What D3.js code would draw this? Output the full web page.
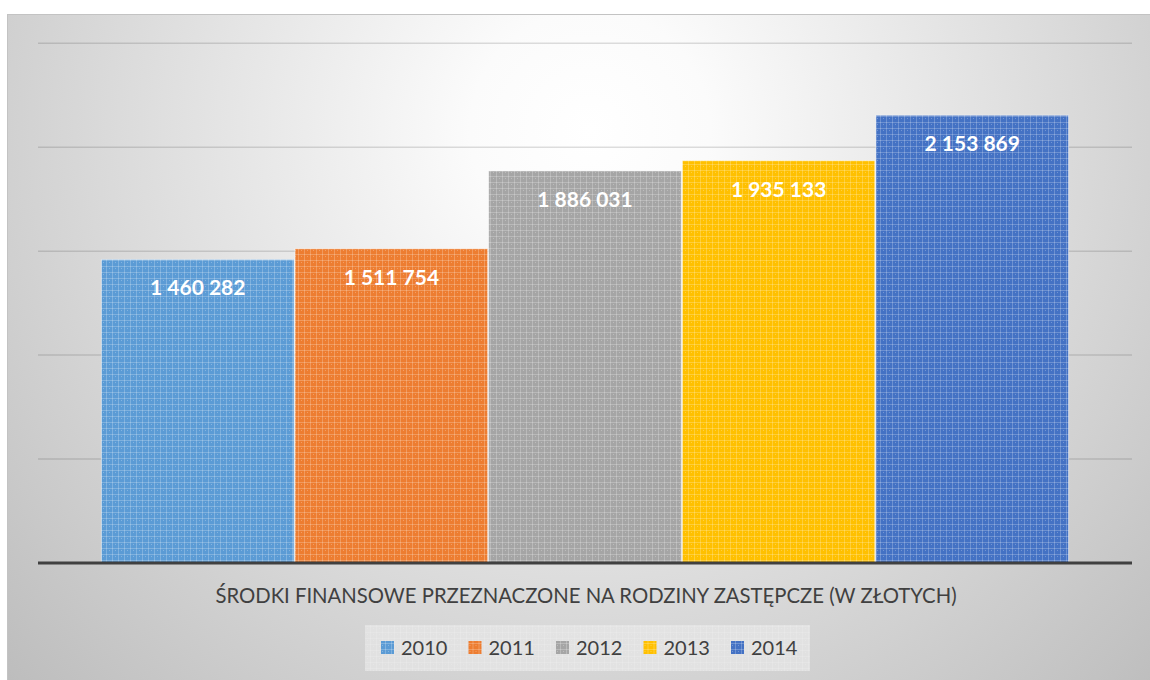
<!DOCTYPE html>
<html>
<head>
<meta charset="utf-8">
<script src="https://cdn.jsdelivr.net/npm/d3@7"></script>
<style>
  html, body { margin: 0; padding: 0; background: #fff; }
  #container { width: 1150px; height: 680px; }
</style>
</head>
<body>
<div id="container"></div>
<script>
// data
const years = ['2010', '2011', '2012', '2013', '2014']
const values = [1460282, 1511754, 1886031, 1935133, 2153869]
const colors = ['#5b9bd5', '#ed7d31', '#a5a5a5', '#ffc000', '#4472c4']
const gridTicks = [0, 500000, 1000000, 1500000, 2000000, 2500000]
const title = 'ŚRODKI FINANSOWE PRZEZNACZONE NA RODZINY ZASTĘPCZE (W ZŁOTYCH)'

const w = 1150
const h = 680

// plot area
const plot = { left: 38, right: 1132, top: 43.3, bottom: 563 }

const svg = d3.select('#container')
  .append('svg')
  .attr('width', w)
  .attr('height', h)

const defs = svg.append('defs')

// background gradient
const grad = defs.append('radialGradient')
  .attr('id', 'bg')
  .attr('gradientUnits', 'userSpaceOnUse')
  .attr('cx', 590).attr('cy', 130).attr('r', 800)
grad.append('stop').attr('offset', 0).attr('stop-color', '#ffffff')
grad.append('stop').attr('offset', 0.15).attr('stop-color', '#fbfbfb')
grad.append('stop').attr('offset', 1).attr('stop-color', '#bdbdbd')

//texture patterns for each bar colour
const makePattern = (id, color) => {
  const p = defs.append('pattern')
    .attr('id', id)
    .attr('patternUnits', 'userSpaceOnUse')
    .attr('width', 6).attr('height', 6)
  p.append('rect').attr('width', 6).attr('height', 6).attr('fill', color)
  p.append('rect').attr('x', 0).attr('y', 2).attr('width', 6).attr('height', 1)
    .attr('fill', '#fff').attr('opacity', 0.22)
  p.append('rect').attr('x', 4).attr('y', 0).attr('width', 1).attr('height', 6)
    .attr('fill', '#fff').attr('opacity', 0.22)
  p.append('rect').attr('x', 1).attr('y', 4).attr('width', 1).attr('height', 1)
    .attr('fill', '#fff').attr('opacity', 0.25)
}
years.forEach((y, i) => makePattern('pat' + y, colors[i]))
makePattern('patLegend', '#e6e6e6')

// chart box
svg.append('rect')
  .attr('x', 7.5).attr('y', 14.5)
  .attr('width', w).attr('height', h)
  .attr('fill', 'url(#bg)')
  .attr('stroke', '#c3c3c3')
  .attr('stroke-width', 1)

// scales
const y = d3.scaleLinear()
  .domain([0, 2500000])
  .range([plot.bottom, plot.top])

const x = d3.scaleBand()
  .domain(years)
  .range([plot.left, plot.right])
  .paddingInner(0)
  .paddingOuter(0.325)

// gridlines
svg.append('g')
  .selectAll('line')
  .data(gridTicks.slice(1))
  .enter()
  .append('line')
  .attr('x1', plot.left).attr('x2', plot.right)
  .attr('y1', d => y(d)).attr('y2', d => y(d))
  .attr('stroke', '#000')
  .attr('stroke-opacity', 0.13)
  .attr('stroke-width', 1.5)

// bars
svg.append('g')
  .selectAll('rect')
  .data(years)
  .enter()
  .append('rect')
  .attr('x', d => x(d) + 0.5)
  .attr('y', (d, i) => y(values[i]))
  .attr('width', x.bandwidth() - 1)
  .attr('height', (d, i) => plot.bottom - y(values[i]))
  .attr('fill', d => 'url(#pat' + d + ')')
  .attr('stroke', '#fff')
  .attr('stroke-opacity', 0.5)
  .attr('stroke-width', 1)

// value labels
const fmt = v => d3.format(',')(v).replace(/,/g, ' ')
svg.append('g')
  .selectAll('text')
  .data(years)
  .enter()
  .append('text')
  .attr('x', d => x(d) + x.bandwidth() / 2)
  .attr('y', (d, i) => y(values[i]) + 36)
  .attr('text-anchor', 'middle')
  .attr('font-family', 'Lato, "Open Sans", sans-serif')
  .attr('font-weight', 'bold')
  .attr('font-size', 21)
  .attr('fill', '#fff')
  .text((d, i) => fmt(values[i]))

// axis line
svg.append('line')
  .attr('x1', plot.left).attr('x2', plot.right)
  .attr('y1', plot.bottom).attr('y2', plot.bottom)
  .attr('stroke', '#404040')
  .attr('stroke-width', 3)

// category title
svg.append('text')
  .attr('x', 586)
  .attr('y', 603)
  .attr('text-anchor', 'middle')
  .attr('font-family', 'Lato, "Open Sans", sans-serif')
  .attr('font-size', 20.3)
  .attr('fill', '#404040')
  .text(title)

// legend
const legend = svg.append('g')
legend.append('rect')
  .attr('x', 365).attr('y', 625)
  .attr('width', 445).attr('height', 46)
  .attr('fill', 'url(#patLegend)')
  .attr('opacity', 0.75)

const lx = d3.scalePoint()
  .domain(years)
  .range([381, 731])

const item = legend.selectAll('g')
  .data(years)
  .enter()
  .append('g')
  .attr('transform', d => `translate(${lx(d)},641)`)

item.append('rect')
  .attr('width', 13).attr('height', 13)
  .attr('fill', d => 'url(#pat' + d + ')')

item.append('text')
  .attr('x', 20)
  .attr('y', 14)
  .attr('font-family', 'Lato, "Open Sans", sans-serif')
  .attr('font-size', 20)
  .attr('fill', '#404040')
  .text(d => d)
</script>
</body>
</html>
